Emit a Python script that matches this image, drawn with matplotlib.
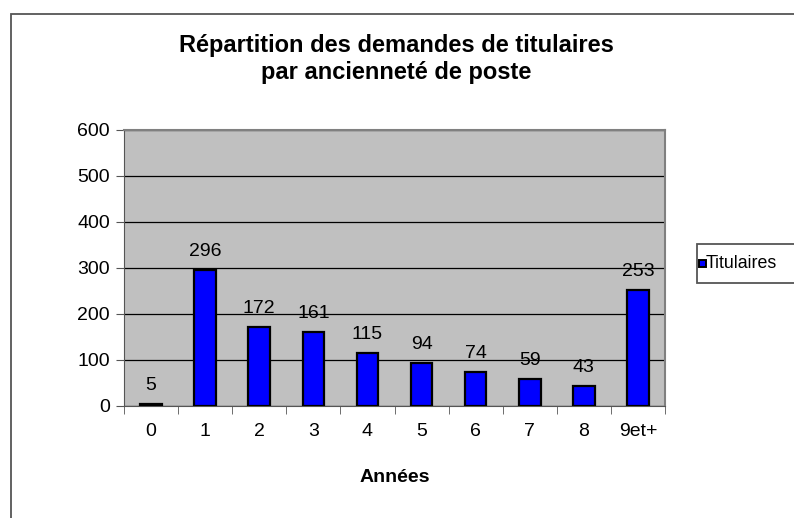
import matplotlib
matplotlib.use("Agg")
import matplotlib.pyplot as plt
from matplotlib.patches import Rectangle

# Chart data
categories = ["0", "1", "2", "3", "4", "5", "6", "7", "8", "9et+"]
titulaires = [5, 296, 172, 161, 115, 94, 74, 59, 43, 253]
y_ticks = [0, 100, 200, 300, 400, 500, 600]
series_name = "Titulaires"

plt.rcParams["font.family"] = ["Liberation Sans", "DejaVu Sans"]

W, H = 794, 518
fig = plt.figure(figsize=(W / 100, H / 100), dpi=100)

def fx(px):
    return px / W

def fy(py):
    return 1 - py / H

# outer chart frame (right/bottom sides fall outside the image)
fig.patches.append(Rectangle((fx(11), -0.1), 1.2, fy(14) + 0.1,
                             transform=fig.transFigure, fill=False,
                             edgecolor="#555555", linewidth=1.3))

ax = fig.add_axes([fx(124), fy(406), fx(665) - fx(124), fy(130) - fy(406)])
ax.set_facecolor("#c0c0c0")

x = range(len(categories))
bars = ax.bar(x, titulaires, width=0.4, color="#0000ff", edgecolor="black",
              linewidth=1.6, zorder=3)

for xi, v in zip(x, titulaires):
    ax.annotate(str(v), (xi, v), xytext=(0, 7), textcoords="offset points",
                ha="center", va="bottom", fontsize=14)

ax.set_xlim(-0.5, len(categories) - 0.5)
ax.set_ylim(0, 600)
ax.set_yticks(y_ticks)
ax.set_yticklabels([str(t) for t in y_ticks], fontsize=14)
ax.yaxis.grid(True, color="black", linewidth=0.9, zorder=1)
ax.set_axisbelow(True)

# category labels centred, ticks on the category borders
ax.set_xticks(list(x))
ax.set_xticklabels(categories, fontsize=14)
ax.tick_params(axis="x", which="major", length=0, pad=12)
ax.set_xticks([i - 0.5 for i in range(len(categories) + 1)], minor=True)
ax.tick_params(axis="x", which="minor", length=6, color="#555555")
ax.tick_params(axis="y", length=6, color="#555555", pad=4)

for side in ["top", "right"]:
    ax.spines[side].set_color("#808080")
    ax.spines[side].set_linewidth(1.5)
ax.spines["left"].set_color("#555555")
ax.spines["bottom"].set_color("#555555")

fig.text(fx(395), fy(478), "Années", ha="center", va="center",
         fontsize=14, fontweight="bold")

fig.text(fx(396), fy(59), "Répartition des demandes de titulaires\npar ancienneté de poste",
         ha="center", va="center", fontsize=17, fontweight="bold", linespacing=1.2)

# legend box, drawn by hand to sit where the original one does
fig.patches.append(Rectangle((fx(697), fy(283)), 0.5, fy(244) - fy(283),
                             transform=fig.transFigure, facecolor="white",
                             edgecolor="#555555", linewidth=1.3))
fig.patches.append(Rectangle((fx(699), fy(267)), fx(706) - fx(699), fy(260) - fy(267),
                             transform=fig.transFigure, facecolor="#0000ff",
                             edgecolor="black", linewidth=1.4))
fig.text(fx(706), fy(264), series_name, ha="left", va="center", fontsize=12.8)

fig.savefig("out.png", dpi=100)
